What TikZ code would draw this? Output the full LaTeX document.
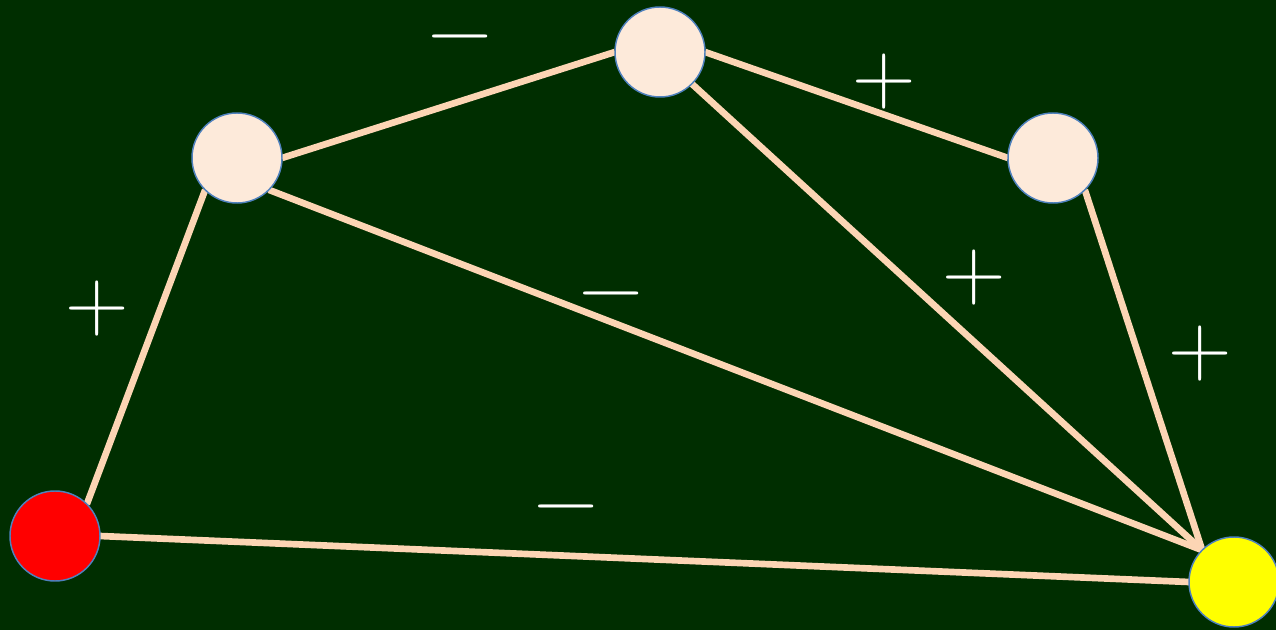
\documentclass[tikz,border=0pt]{standalone}
\usepackage{fontspec}
\usetikzlibrary{backgrounds}
\definecolor{board}{RGB}{0,46,0}
\definecolor{peach}{RGB}{252,213,180}
\definecolor{cream}{RGB}{253,234,218}
\definecolor{rim}{RGB}{79,129,189}
\definecolor{sunny}{RGB}{255,255,0}

\begin{document}
\begin{tikzpicture}[x=0.75pt,y=0.75pt,yscale=-1,xscale=1,
  vertex/.style={circle,draw=rim,line width=1.1pt,fill=cream,minimum size=67.5pt,inner sep=0pt,outer sep=0pt},
  link/.style={draw=peach,line width=5pt},
  sign/.style={text=white,font=\fontsize{66}{66}\selectfont,inner sep=0pt},
  minus/.style={sign,text height=0.5em,text depth=0pt,anchor=base,yshift=-18pt}]
\useasboundingbox (0,0) rectangle (1276,630);

%Shape: Circles
\node [vertex,fill=red] (src) at (55,536) {};
\node [vertex] (left) at (237,158) {};
\node [vertex] (top) at (660,52) {};
\node [vertex] (right) at (1053,158) {};
\node [vertex,fill=sunny] (snk) at (1234,582) {};

%Straight Lines
\begin{scope}[on background layer]
\fill [board] (0,0) rectangle (1276,630);
\draw [link] (src.north east) -- (left.south west);
\draw [link] (left.east) -- (top.west);
\draw [link] (top.east) -- (right.west);
\draw [link] (left.south east) -- (snk.north west);
\draw [link] (top.south east) -- (snk.north west);
\draw [link] (right.south east) -- (snk.north west);
\draw [link] (src.east) -- (snk.west);
\end{scope}

% Text Node
\node [minus] (s1) at (460,35) {−};
\node [sign] (s2) at (884,82) {+};
\node [sign] (s3) at (97,309) {+};
\node [minus] (s4) at (611,292) {−};
\node [sign] (s5) at (974,278) {+};
\node [sign] (s6) at (1200,354) {+};
\node [minus] (s7) at (566,504) {−};

\end{tikzpicture}
\end{document}
